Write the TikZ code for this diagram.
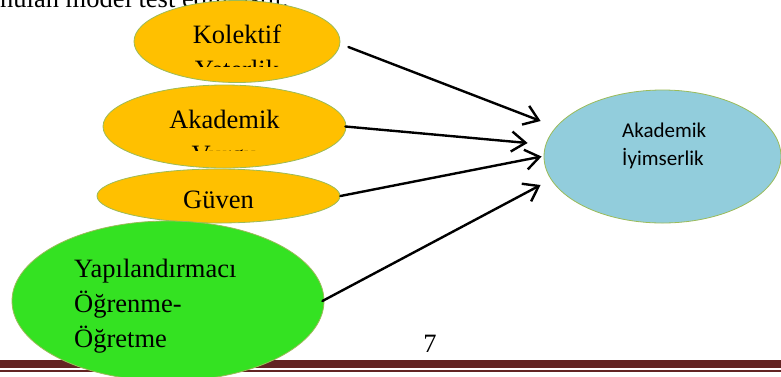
\documentclass[tikz,border=0pt]{standalone}
\usepackage{fontspec}
\setmainfont{Liberation Serif}
\newfontfamily\calfont{Carlito}
\usetikzlibrary{shapes.geometric,arrows.meta}
\definecolor{blobBorder}{RGB}{155,187,89}
\definecolor{blobOrange}{RGB}{255,192,0}
\definecolor{blobGreen}{RGB}{52,226,34}
\definecolor{blobBlue}{RGB}{146,205,220}
\definecolor{ruleRed}{RGB}{99,36,35}

\begin{document}
\begin{tikzpicture}[x=1pt, y=-1pt,
  blob/.style={ellipse, draw=blobBorder, line width=0.8pt, inner sep=0pt},
  lbl/.style={inner sep=0pt, font=\fontsize{26.5}{30}\selectfont},
  flow/.style={-{Straight Barb[length=14pt,width=20pt]}, line width=2.4pt, line cap=round, line join=round}]
% model figure, pixel units
\useasboundingbox (0,0) rectangle (781,376);
\begin{scope}
  \clip (0,0) rectangle (781,376);
  % Running text cut by the page top
  \node[lbl, anchor=base west] (toptext) at (0,7.5) {nulan model test edilmiştir.};
  % Footer rules
  \fill[ruleRed] (0,360) rectangle (781,367.5);
  \fill[ruleRed] (0,370) rectangle (781,371.5);
  \node[lbl, anchor=base] (pageno) at (430,352) {7};
  % Ellipses
  \node[blob, fill=blobOrange, minimum width=206pt, minimum height=82pt] (kol) at (237,41.5) {};
  \node[blob, fill=blobOrange, minimum width=243pt, minimum height=83pt] (aka) at (224.5,126.5) {};
  \node[blob, fill=blobOrange, minimum width=243pt, minimum height=54pt] (guv) at (218.5,196) {};
  \node[blob, fill=blobGreen, minimum width=312pt, minimum height=160pt] (yap) at (168,301) {};
  \node[blob, fill=blobBlue, minimum width=237pt, minimum height=133pt] (iyim) at (662.5,156.5) {};
  % Texts
  \node[lbl, anchor=base] (kolt) at (237,43) {Kolektif};
  \begin{scope}
    \clip (0,0) rectangle (781,66);
    \node[lbl, anchor=base] (kolb) at (237,78.5) {Yeterlik};
  \end{scope}
  \node[lbl, anchor=base] (akat) at (224.5,128) {Akademik};
  \begin{scope}
    \clip (0,0) rectangle (781,150);
    \node[lbl, anchor=base] (akab) at (224.5,163.5) {Vurgu};
  \end{scope}
  \node[lbl, anchor=base] (guvt) at (218.5,208) {Güven};
  \node[lbl, anchor=base west] (yapa) at (74,277) {Yapılandırmacı};
  \node[lbl, anchor=base west] (yapb) at (74,312) {Öğrenme-};
  \node[lbl, anchor=base west] (yapc) at (74,347.5) {Öğretme};
  \node[inner sep=0pt, anchor=base west, font=\calfont\fontsize{21}{25}\selectfont] (iyima) at (622,137) {Akademik};
  \node[inner sep=0pt, anchor=base west, font=\calfont\fontsize{21}{25}\selectfont] (iyimb) at (622,165.5) {İyimserlik};
  % Arrows
  \draw[flow] ([xshift=8pt,yshift=-5.5pt]kol.east) -- ([xshift=-3pt,yshift=35.5pt]iyim.west);
  \draw[flow] ([xshift=-1pt]aka.east) -- ([xshift=-16pt,yshift=13.5pt]iyim.west);
  \draw[flow] (guv.east) -- ([xshift=-2pt]iyim.west);
  \draw[flow] ([xshift=-2pt]yap.east) -- ([xshift=-3pt,yshift=-28.5pt]iyim.west);
\end{scope}
\end{tikzpicture}
\end{document}
